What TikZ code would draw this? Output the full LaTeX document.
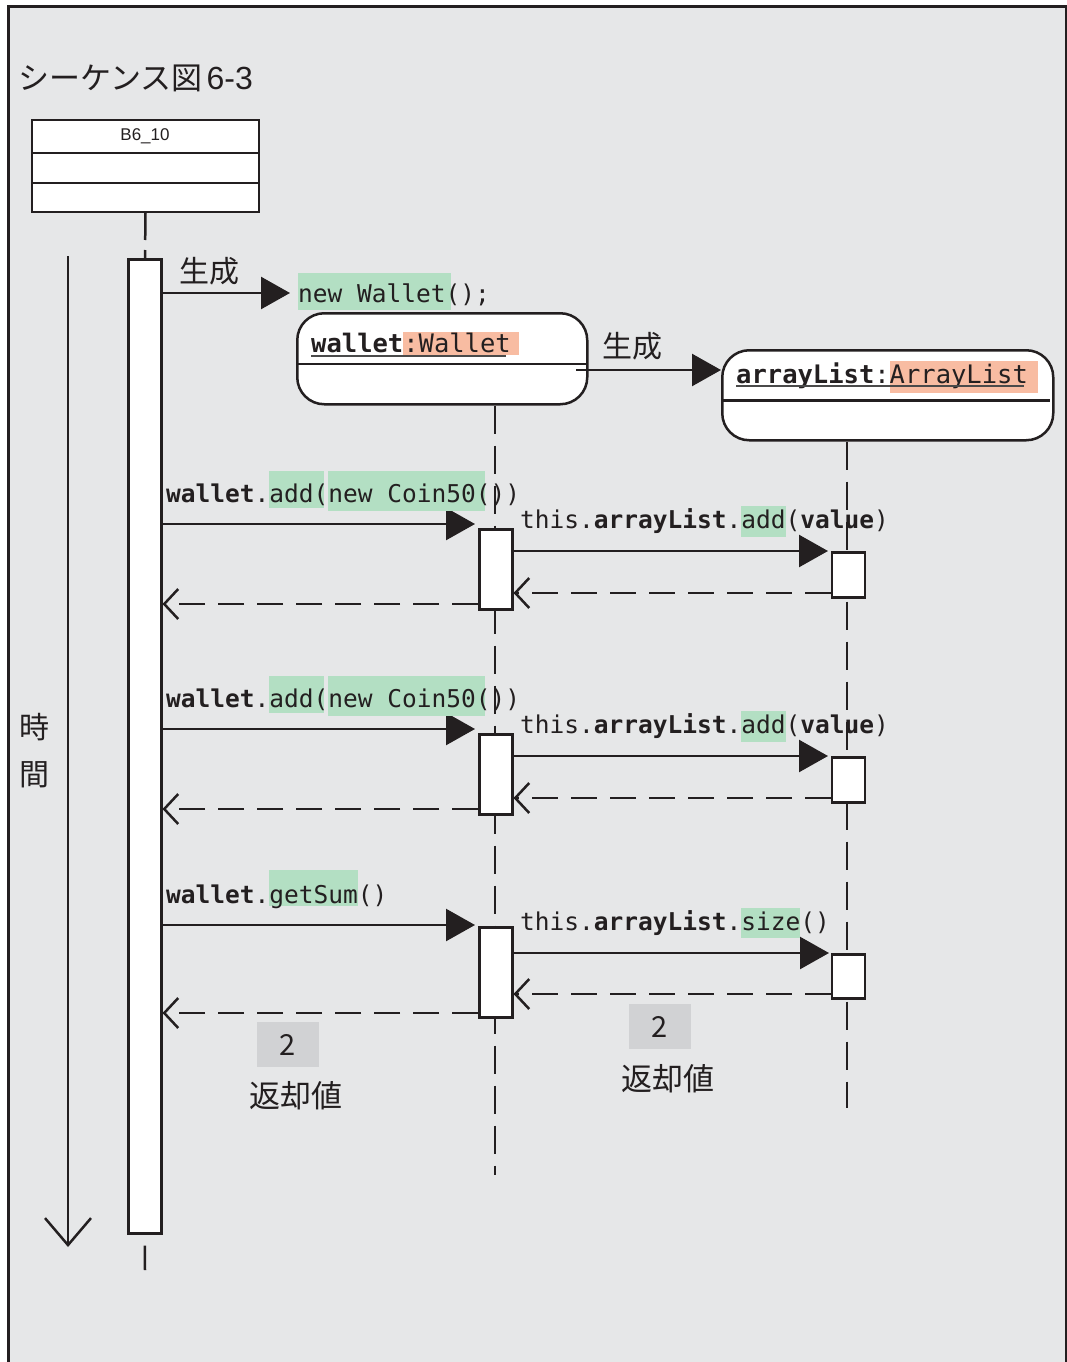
\documentclass[tikz,border=0pt]{standalone}
\usepackage{fontspec}
\usetikzlibrary{arrows.meta}
\newfontfamily\jpfont{Noto Sans CJK JP}
\newfontfamily\codefont{DejaVu Sans Mono}
\newfontfamily\labelfont{Liberation Sans}
\definecolor{bgray}{HTML}{E6E7E8}
\definecolor{ink}{HTML}{231F20}
\definecolor{hlgreen}{HTML}{B3DFC3}
\definecolor{hlsalmon}{HTML}{F8BCA2}
\definecolor{valbox}{HTML}{D1D2D4}
\definecolor{ulgray}{HTML}{4A4A4A}
% highlight behind a piece of text: colour, depth, height, extra width, text
\newcommand\hilite[5]{%
  \setbox0=\hbox{#5}%
  \rlap{\textcolor{#1}{\rule[-#2]{\dimexpr\wd0+#4\relax}{\dimexpr#2+#3\relax}}}\box0}
\tikzset{
  thick line/.style={line width=2.5pt, draw=ink},
  code/.style={font=\codefont\fontsize{24.5}{28}\selectfont, inner sep=0pt, text=ink},
  objname/.style={font=\codefont\fontsize{25.5}{28}\selectfont, inner sep=0pt, text=ink},
  jp/.style={font=\jpfont\fontsize{30}{34}\selectfont, inner sep=0pt, text=ink},
  objbox/.style={thick line, fill=white, rounded corners=27pt, inner sep=0pt, anchor=north west},
  actbox/.style={thick line, fill=white, minimum width=33pt, inner sep=0pt, anchor=north west},
  lifeline/.style={thick line, dash pattern=on 28pt off 12pt},
  callmsg/.style={thick line, -{Triangle[length=29pt,width=32pt]}},
  retmsg/.style={thick line, dash pattern=on 26pt off 13pt, -{Straight Barb[length=14pt,width=30pt]}},
  valuebox/.style={fill=valbox, minimum width=62pt, minimum height=45pt, inner sep=0pt,
    font=\jpfont\fontsize{29}{32}\selectfont, text=ink},
}
\begin{document}
\begin{tikzpicture}[x=1pt,y=-1pt]
\useasboundingbox (0,0) rectangle (1067,1362);
\fill[white] (0,0) rectangle (1067,1362);
% panel
\fill[bgray] (8,7) rectangle (1066,1362);
\draw[line width=3pt, draw=ink] (8,1362) -- (8,7) -- (1066,7) -- (1066,1362);

% title
\node[jp, font=\jpfont\fontsize{31}{34}\selectfont, anchor=west] (title) at (18,78)
  {シーケンス図\hspace{4pt}{\labelfont\fontsize{32}{34}\selectfont 6-3}};

% class box B6_10
\node[draw=ink, line width=2pt, fill=white, minimum width=227pt, minimum height=92pt,
      inner sep=0pt, anchor=north west] (b6) at (31,119) {};
\draw[draw=ink, line width=2pt] (31,153) -- (258,153);
\draw[draw=ink, line width=2pt] (31,183) -- (258,183);
\node[font=\labelfont\fontsize{17}{18}\selectfont, text=ink] (b6name) at (145,136.5) {B6\_10};

% time axis
\node[jp, anchor=center] (t1) at (34,727) {時};
\node[jp, anchor=center] (t2) at (34,775) {間};
\coordinate (tstart) at (68,256);
\coordinate (tend) at (68,1247);
\draw[thick line, -{Straight Barb[length=27pt,width=46pt]}] (tstart) -- (tend);

% object boxes
\node[objbox, minimum width=290pt, minimum height=91pt] (wallet) at (296,312) {};
\draw[thick line] (296,364) -- (586,364);
\node[objbox, minimum width=331pt, minimum height=90pt] (alist) at (721,349) {};
\draw[thick line] (721,400.5) -- (1050,400.5);

% lifelines
\coordinate (b6top) at (145,258);
\coordinate (b6end) at (145,1270);
\draw[lifeline, dash pattern=on 27pt off 10pt] (b6.south) -- (b6top);
\coordinate (wend) at (495,1175);
\coordinate (aend) at (847,1108);
\draw[lifeline] (wallet.south -| wend) -- (wend);
\draw[lifeline] (alist.south -| aend) -- (aend);

% activation bars
\node[actbox, minimum height=974pt] (act0) at (127,258) {};
\draw[thick line, dash pattern=on 0pt off 11pt on 27pt off 100pt] (act0.south) -- (b6end);
\node[actbox, minimum height=80pt] (act1) at (478,528) {};
\node[actbox, minimum height=80pt] (act2) at (478,733) {};
\node[actbox, minimum height=90pt] (act3) at (478,926) {};
\node[actbox, minimum height=45pt] (sub1) at (830.5,551) {};
\node[actbox, minimum height=45pt] (sub2) at (830.5,756) {};
\node[actbox, minimum height=44pt] (sub3) at (830.5,953) {};

% creation messages
\coordinate (c1) at (160,293);
\coordinate (c1end) at (290,293);
\draw[callmsg] (c1) -- (c1end);
\node[jp, anchor=center] (gen1) at (209,271) {生成};
\node[code, anchor=base west] (newwallet) at (298,302)
  {\hilite{hlgreen}{8pt}{29pt}{-9pt}{new Wallet(});};
\coordinate (c2) at (576,370);
\draw[callmsg] (c2) -- (alist.west |- c2);
\node[jp, anchor=center] (gen2) at (632,346) {生成};

% object names
\node[objname, anchor=base west] (wname) at (311,352)
  {\textbf{wallet}\hilite{hlsalmon}{3pt}{20pt}{8pt}{:Wallet}};
\draw[draw=ulgray, line width=1.6pt] ([yshift=-4pt]wname.base west) -- ([yshift=-4pt,xshift=-5pt]wname.base east);
\node[objname, anchor=base west] (aname) at (736,383)
  {\textbf{arrayList}:\hilite{hlsalmon}{10pt}{22pt}{10pt}{ArrayList}};
\draw[draw=ulgray, line width=1.6pt] ([yshift=-3pt]aname.base west) -- ([yshift=-3pt,xshift=-4pt]aname.base east);

% message 1
\coordinate (m1tip) at (475,524);
\coordinate (s1tip) at (828,551);
\draw[callmsg] (act0.east |- m1tip) -- (m1tip);
\node[code, anchor=base west] (m1) at (166,502)
  {\textbf{wallet}.\hilite{hlgreen}{6pt}{31pt}{-4pt}{add(}\hilite{hlgreen}{9pt}{31pt}{-6pt}{new Coin50(}))};
\draw[callmsg] (act1.east |- s1tip) -- (s1tip);
\node[code, anchor=base west] (s1) at (520,528)
  {this.\textbf{arrayList}.\hilite{hlgreen}{9pt}{22pt}{0pt}{add}(\textbf{value})};
\draw[retmsg] (sub1.west |- 0,593) -- (act1.east |- 0,593);
\draw[retmsg] (act1.west |- 0,604) -- (act0.east |- 0,604);

% message 2
\coordinate (m2tip) at (475,729);
\coordinate (s2tip) at (828,756);
\draw[callmsg] (act0.east |- m2tip) -- (m2tip);
\node[code, anchor=base west] (m2) at (166,707)
  {\textbf{wallet}.\hilite{hlgreen}{6pt}{31pt}{-4pt}{add(}\hilite{hlgreen}{9pt}{31pt}{-6pt}{new Coin50(}))};
\draw[callmsg] (act2.east |- s2tip) -- (s2tip);
\node[code, anchor=base west] (s2) at (520,733)
  {this.\textbf{arrayList}.\hilite{hlgreen}{9pt}{22pt}{0pt}{add}(\textbf{value})};
\draw[retmsg] (sub2.west |- 0,798) -- (act2.east |- 0,798);
\draw[retmsg] (act2.west |- 0,809) -- (act0.east |- 0,809);

% message 3
\coordinate (m3tip) at (475,925);
\coordinate (s3tip) at (829,953);
\draw[callmsg] (act0.east |- m3tip) -- (m3tip);
\node[code, anchor=base west] (m3) at (166,903)
  {\textbf{wallet}.\hilite{hlgreen}{3pt}{33pt}{0pt}{getSum}()};
\draw[callmsg] (act3.east |- s3tip) -- (s3tip);
\node[code, anchor=base west] (s3) at (520,930)
  {this.\textbf{arrayList}.\hilite{hlgreen}{8pt}{22pt}{0pt}{size}()};
\draw[retmsg] (sub3.west |- 0,994) -- (act3.east |- 0,994);
\draw[retmsg] (act3.west |- 0,1013) -- (act0.east |- 0,1013);

% return values
\node[valuebox] (v1) at (288,1044.5) {2};
\node[jp, font=\jpfont\fontsize{31}{34}\selectfont] (r1) at (296,1096) {返却値};
\node[valuebox] (v2) at (660,1026.5) {2};
\node[jp, font=\jpfont\fontsize{31}{34}\selectfont] (r2) at (668,1079) {返却値};
\end{tikzpicture}
\end{document}
